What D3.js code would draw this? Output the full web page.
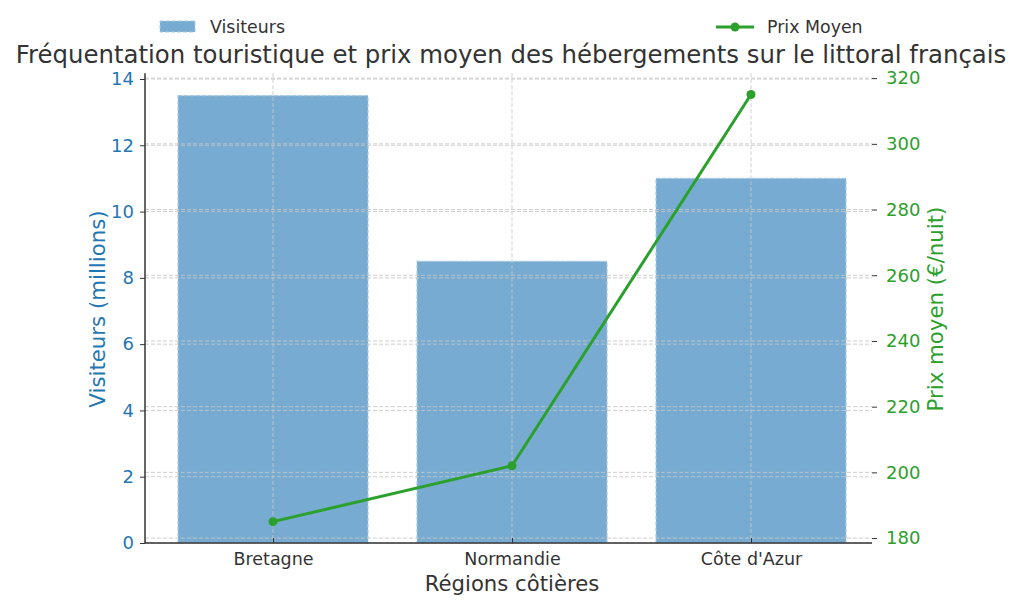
<!DOCTYPE html>
<html><head><meta charset="utf-8">
<script src="https://cdn.jsdelivr.net/npm/d3@7"></script>
<style>body{margin:0;background:#fff}svg{font-family:"DejaVu Sans",sans-serif}</style>
</head><body>
<svg id="c" width="1024" height="608"></svg>
<script>
const categories = ["Bretagne", "Normandie", "Côte d'Azur"];
const visiteurs = [13.5, 8.5, 11];
const prixMoyen = [185, 202, 315];
const leftTicks = [0, 2, 4, 6, 8, 10, 12, 14];
const rightTicks = [180, 200, 220, 240, 260, 280, 300, 320];

const svg = d3.select("#c");
const L = 145, R = 872, T = 73.2, B = 543;
const x = d3.scalePoint().domain(categories).range([273, 751]);
const bw = 190;
const yL = d3.scaleLinear().domain([0, 14.175]).range([B, T]);
const yR = d3.scaleLinear().domain([178.5, 321.5]).range([B, T]);
const blue = "#1f77b4", green = "#2ca02c", dark = "#333";

// bars
svg.append("g").selectAll("rect").data(categories).join("rect")
  .attr("x", d => x(d) - bw/2).attr("width", bw)
  .attr("y", (d,i) => yL(visiteurs[i])).attr("height", (d,i) => B - yL(visiteurs[i]))
  .attr("fill", "#77abd1")
  .attr("stroke", "#a9c8e2").attr("stroke-width", 1.2).attr("stroke-dasharray", "4,2");

// grids (on top, light)
const g = svg.append("g").attr("stroke", "#c8c8c8").attr("stroke-dasharray", "4,2").attr("stroke-width", 1).attr("opacity", 0.85);
g.selectAll(".gl").data(leftTicks).join("line")
  .attr("x1", L).attr("x2", R).attr("y1", d => yL(d)).attr("y2", d => yL(d));
g.selectAll(".gr").data(rightTicks).join("line")
  .attr("x1", L).attr("x2", R).attr("y1", d => yR(d)).attr("y2", d => yR(d));
g.selectAll(".gx").data(categories).join("line")
  .attr("x1", d => x(d)).attr("x2", d => x(d)).attr("y1", T).attr("y2", B);

// line
const line = d3.line().x((d,i) => x(categories[i])).y(d => yR(d));
svg.append("path").datum(prixMoyen).attr("d", line)
  .attr("fill", "none").attr("stroke", green).attr("stroke-width", 3);
svg.append("g").selectAll("circle").data(prixMoyen).join("circle")
  .attr("cx", (d,i) => x(categories[i])).attr("cy", d => yR(d)).attr("r", 4.5).attr("fill", green);

// axes
const axL = svg.append("g").attr("transform", `translate(${L},0)`)
  .call(d3.axisLeft(yL).tickValues(leftTicks).tickSize(5).tickPadding(6));
axL.select(".domain").attr("d", `M0,${T}V${B}`).attr("stroke", dark).attr("stroke-width", 1.5);
axL.selectAll(".tick line").attr("stroke", dark);
axL.selectAll("text").attr("fill", blue).attr("font-size", 18).attr("font-family", "DejaVu Sans");

const axR = svg.append("g").attr("transform", `translate(${R},0)`)
  .call(d3.axisRight(yR).tickValues(rightTicks).tickSize(5).tickPadding(9));
axR.select(".domain").remove();
axR.selectAll(".tick line").attr("stroke", dark);
axR.selectAll("text").attr("fill", green).attr("font-size", 18).attr("font-family", "DejaVu Sans");

const axB = svg.append("g").attr("transform", `translate(0,${B})`)
  .call(d3.axisBottom(x).tickSize(5).tickPadding(5));
axB.select(".domain").attr("d", `M${L},0H${R}`).attr("stroke", dark).attr("stroke-width", 1.5);
axB.selectAll(".tick line").attr("stroke", dark).attr("y1", -5).attr("y2", 0);
axB.selectAll("text").attr("fill", dark).attr("font-size", 17.5).attr("font-family", "DejaVu Sans");

// labels
svg.append("text").attr("x", 511).attr("y", 62.5).attr("text-anchor", "middle")
  .attr("font-size", 24.4).attr("fill", dark)
  .text("Fréquentation touristique et prix moyen des hébergements sur le littoral français");
svg.append("text").attr("x", 512).attr("y", 591).attr("text-anchor", "middle")
  .attr("font-size", 21.2).attr("fill", dark).text("Régions côtières");
svg.append("text").attr("transform", "translate(105,309) rotate(-90)").attr("text-anchor", "middle")
  .attr("font-size", 21.3).attr("fill", blue).text("Visiteurs (millions)");
svg.append("text").attr("transform", "translate(943,309) rotate(-90)").attr("text-anchor", "middle")
  .attr("font-size", 21.3).attr("fill", green).text("Prix moyen (€/nuit)");

// legends
const lg = svg.append("g");
lg.append("rect").attr("x", 160).attr("y", 21).attr("width", 35).attr("height", 11)
  .attr("fill", "#77abd1").attr("stroke", "#a9c8e2").attr("stroke-dasharray", "4,2");
lg.append("text").attr("x", 210).attr("y", 33).attr("font-size", 17.4).attr("fill", dark).text("Visiteurs");
lg.append("line").attr("x1", 716).attr("x2", 754).attr("y1", 27).attr("y2", 27).attr("stroke", green).attr("stroke-width", 3);
lg.append("circle").attr("cx", 735).attr("cy", 27).attr("r", 4.5).attr("fill", green);
lg.append("text").attr("x", 767).attr("y", 33).attr("font-size", 17.4).attr("fill", dark).text("Prix Moyen");
</script>
</body></html>
